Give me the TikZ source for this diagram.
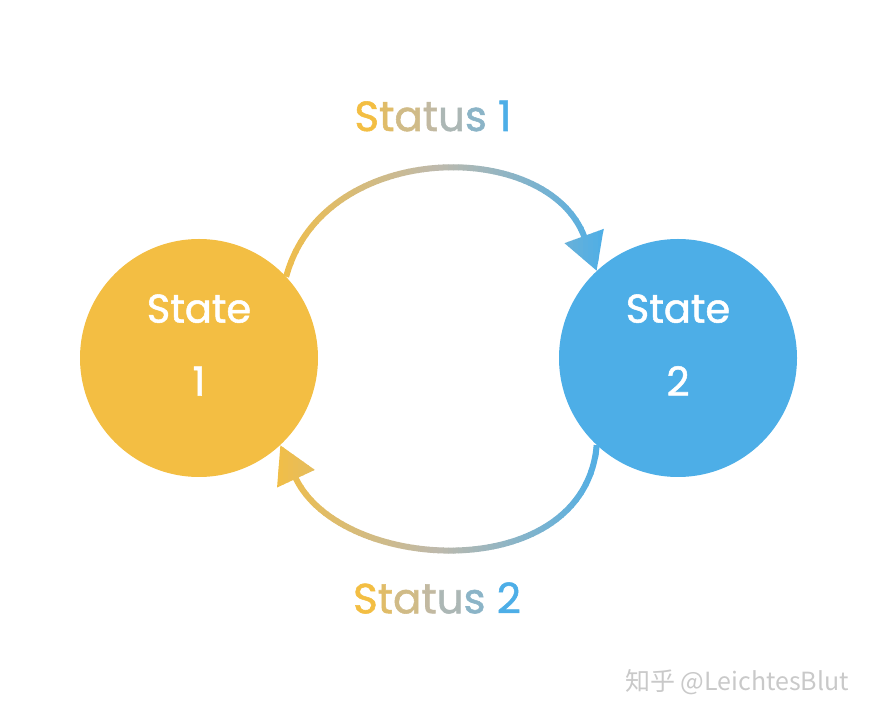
\documentclass[tikz,border=0pt]{standalone}
\usepackage{fontspec}
\setmainfont{Poppins}
\newfontfamily\statefont[FakeBold=1.3]{Poppins}
\newfontfamily\cjkfont{Noto Sans CJK SC}
\usepackage{xcolor}
\usetikzlibrary{arrows.meta}
\definecolor{stateyellow}{HTML}{F3BE43}
\definecolor{stateblue}{HTML}{4DAEE7}
\definecolor{statusgray}{HTML}{BDB9AC}
\definecolor{markgray}{HTML}{C9C9C9}

\begin{document}
\begin{tikzpicture}[x=1pt,y=1pt]
        \newcommand{\figstatestripx}{268}
        \newcommand{\figstatestripw}{5}
        \useasboundingbox (0,0) rectangle (876,718);
        \tikzset{
            statecirc/.style={circle, minimum size=238pt, inner sep=0pt, text=white, align=center,
                font=\statefont\fontsize{40}{73}\selectfont, text depth=26pt},
            transline/.style={line width=6pt, -{Triangle[length=37pt,width=40pt]}},
            statuslabel/.style={font=\statefont\fontsize{42}{50}\selectfont}
        }
        \node[statecirc, fill=stateyellow] (state1) at (199,360) {State\\1};
        \node[statecirc, fill=stateblue] (state2) at (678,360) {State\\2};
        % both transitions, yellow on the left to blue on the right
        \foreach \i in {0,...,67} {
            \pgfmathtruncatemacro{\figstatepct}{round(200*\i/67)}
            \pgfmathtruncatemacro{\figstatepctb}{\figstatepct-100}
            \ifnum\figstatepct<100
                \edef\figstatecol{statusgray!\figstatepct!stateyellow}
            \else
                \edef\figstatecol{stateblue!\figstatepctb!statusgray}
            \fi
            \begin{scope}
                \clip (\figstatestripx+\figstatestripw*\i,0) rectangle ++(\figstatestripw+0.6,718);
                \draw[transline, color=\figstatecol] (state1.43) to[out=75,in=110,looseness=1.17] (state2.133);
                \draw[transline, color=\figstatecol] (state2.227) to[out=-95,in=-65,looseness=1.15] (state1.313);
            \end{scope}
        }
        \node[statuslabel] (status1) at (433,602) {\textcolor{stateyellow}{S}\textcolor{statusgray!35!stateyellow}{t}\textcolor{statusgray!65!stateyellow}{a}\textcolor{statusgray!90!stateyellow}{t}\textcolor{stateblue!15!statusgray}{u}\textcolor{stateblue!45!statusgray}{s} \textcolor{stateblue}{1}};
        \node[statuslabel] (status2) at (437,120) {\textcolor{stateyellow}{S}\textcolor{statusgray!35!stateyellow}{t}\textcolor{statusgray!65!stateyellow}{a}\textcolor{statusgray!90!stateyellow}{t}\textcolor{stateblue!15!statusgray}{u}\textcolor{stateblue!45!statusgray}{s} \textcolor{stateblue}{2}};
        \node[font=\cjkfont\fontsize{25}{30}\selectfont, text=markgray] (mark) at (737,36) {知乎 @LeichtesBlut};
    \end{tikzpicture}
\end{document}
